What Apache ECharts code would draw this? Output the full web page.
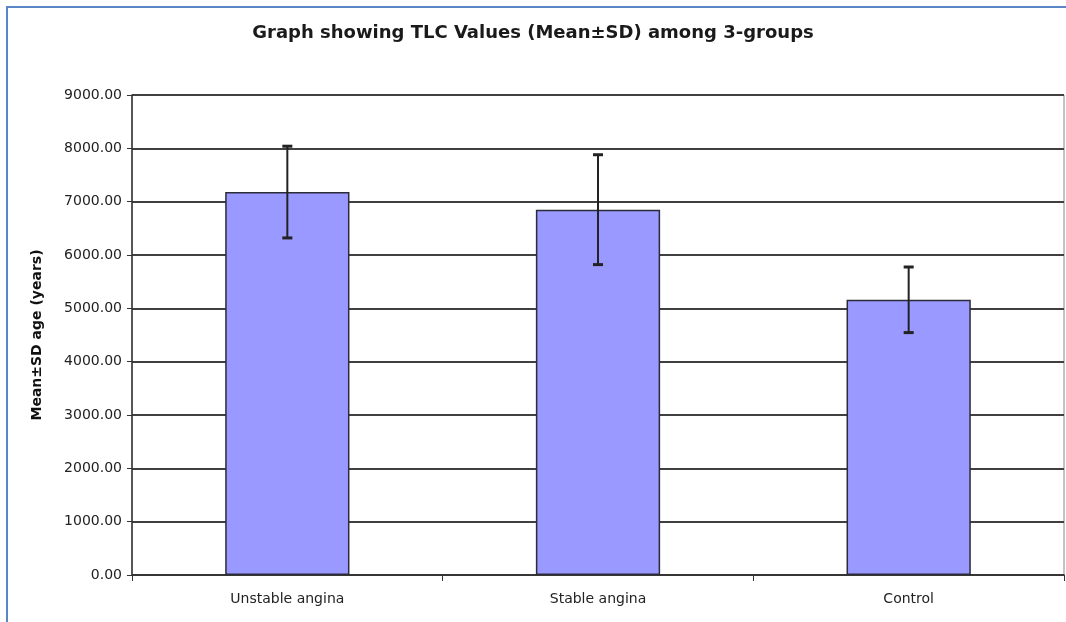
<!DOCTYPE html>
<html>
<head>
<meta charset="utf-8">
<script src="https://cdn.jsdelivr.net/npm/echarts@6/dist/echarts.min.js"></script>
<style>
html, body { margin: 0; padding: 0; background: #fff; }
#main { width: 1066px; height: 622px; }
</style>
</head>
<body>
<div id="main"></div>
<script>
// data
var groups = ['Unstable angina', 'Stable angina', 'Control'];
var means = [7180, 6850, 5160];
var sds = [860, 1030, 615];
var yTicks = [0, 1000, 2000, 3000, 4000, 5000, 6000, 7000, 8000, 9000];

function loadChart() {
    var myChart = echarts.init(document.getElementById('main'));
    var errData = groups.map(function (g, i) {
        return [i, means[i] - sds[i], means[i] + sds[i]];
    });
    var option = {
        animation: false,
        title: {
            text: 'Graph showing TLC Values (Mean±SD) among 3-groups',
            left: 'center',
            top: 19,
            textStyle: { fontFamily: 'DejaVu Sans', fontWeight: 'bold', fontSize: 18, color: '#1a1a1a' }
        },
        graphic: [{
            type: 'rect',
            shape: { x: 7, y: 7, width: 1100, height: 700 },
            style: { fill: 'none', stroke: '#5a86c8', lineWidth: 2 }
        }],
        grid: { left: 132, right: 2, top: 95, bottom: 47, show: true, borderColor: '#888', borderWidth: 1 },
        xAxis: {
            type: 'category',
            data: groups,
            axisLine: { lineStyle: { color: '#333', width: 1.5 } },
            axisTick: { show: true, length: 6, lineStyle: { color: '#333' } },
            axisLabel: { margin: 17, fontFamily: 'DejaVu Sans', fontSize: 14, color: '#222' }
        },
        yAxis: {
            type: 'value',
            min: yTicks[0],
            max: yTicks[yTicks.length - 1],
            interval: 1000,
            name: 'Mean±SD age (years)',
            nameLocation: 'middle',
            nameGap: 88,
            nameTextStyle: { fontFamily: 'DejaVu Sans', fontWeight: 'bold', fontSize: 14, color: '#111' },
            axisLine: { show: true, lineStyle: { color: '#333', width: 1.5 } },
            axisTick: { show: true, length: 5, lineStyle: { color: '#333' } },
            axisLabel: {
                margin: 10, fontFamily: 'DejaVu Sans', fontSize: 14, color: '#222',
                formatter: function (v) { return v.toFixed(2); }
            },
            splitLine: { lineStyle: { color: '#404040', width: 1.8 } }
        },
        series: [
            {
                type: 'bar',
                data: means,
                barWidth: '40%',
                itemStyle: { color: '#9999ff', borderColor: '#2b2b3a', borderWidth: 1.5 }
            },
            {
                type: 'custom',
                data: errData,
                z: 10,
                renderItem: function (params, api) {
                    var lo = api.coord([api.value(0), api.value(1)]);
                    var hi = api.coord([api.value(0), api.value(2)]);
                    var cap = 5;
                    var st = { stroke: '#222', lineWidth: 2 };
                    return {
                        type: 'group',
                        children: [
                            { type: 'line', shape: { x1: hi[0], y1: hi[1], x2: lo[0], y2: lo[1] }, style: st },
                            { type: 'line', shape: { x1: hi[0] - cap, y1: hi[1], x2: hi[0] + cap, y2: hi[1] }, style: { stroke: '#222', lineWidth: 3 } },
                            { type: 'line', shape: { x1: lo[0] - cap, y1: lo[1], x2: lo[0] + cap, y2: lo[1] }, style: { stroke: '#222', lineWidth: 3 } }
                        ]
                    };
                }
            }
        ]
    };
    myChart.setOption(option);
}
loadChart();
</script>
</body>
</html>
